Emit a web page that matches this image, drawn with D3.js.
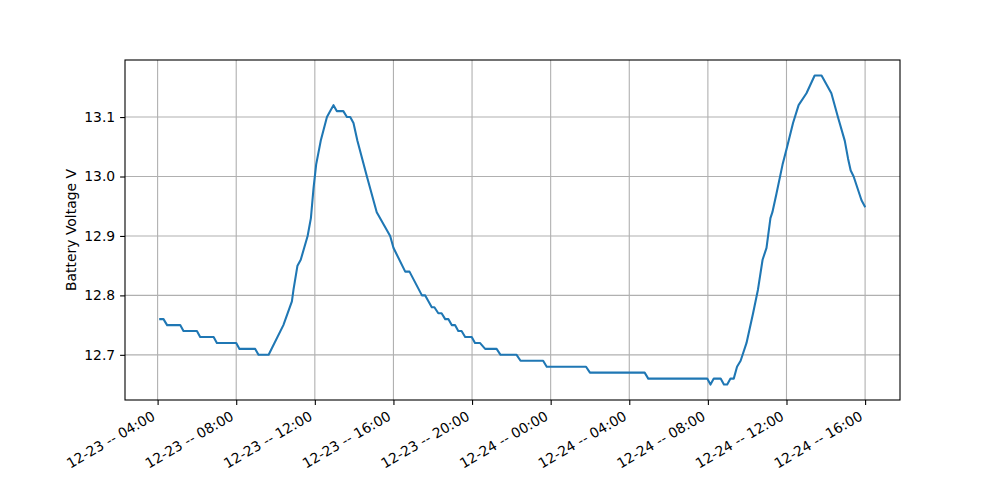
<!DOCTYPE html>
<html>
<head>
<meta charset="utf-8">
<script src="https://cdn.jsdelivr.net/npm/d3@7"></script>
<style>
  body { margin: 0; background: #fff; }
  .chart text { font-family: "DejaVu Sans", sans-serif; font-size: 13.9px; fill: #000; }
</style>
</head>
<body>
<div class="chart"></div>
<script>
// readings taken off the log (month-day hour:minute)
var times = [
  "12-23 04:08", "12-23 04:18", "12-23 04:29", "12-23 05:09", "12-23 05:19", "12-23 06:00",
  "12-23 06:10", "12-23 06:51", "12-23 07:01", "12-23 08:00", "12-23 08:10", "12-23 08:58",
  "12-23 09:08", "12-23 09:39", "12-23 10:24", "12-23 10:50", "12-23 10:55", "12-23 11:07",
  "12-23 11:17", "12-23 11:38", "12-23 11:48", "12-23 11:56", "12-23 12:04", "12-23 12:18",
  "12-23 12:37", "12-23 12:47", "12-23 12:57", "12-23 13:07", "12-23 13:27", "12-23 13:38",
  "12-23 13:48", "12-23 13:58", "12-23 14:10", "12-23 14:39", "12-23 15:09", "12-23 15:50",
  "12-23 16:00", "12-23 16:36", "12-23 16:49", "12-23 17:27", "12-23 17:37", "12-23 17:57",
  "12-23 18:05", "12-23 18:17", "12-23 18:27", "12-23 18:38", "12-23 18:48", "12-23 18:58",
  "12-23 19:08", "12-23 19:18", "12-23 19:28", "12-23 19:39", "12-23 19:59", "12-23 20:09",
  "12-23 20:24", "12-23 20:40", "12-23 21:15", "12-23 21:27", "12-23 22:16", "12-23 22:28",
  "12-23 23:37", "12-23 23:48", "12-24 01:48", "12-24 02:00", "12-24 04:47", "12-24 04:58",
  "12-24 07:58", "12-24 08:08", "12-24 08:18", "12-24 08:39", "12-24 08:49", "12-24 08:59",
  "12-24 09:09", "12-24 09:19", "12-24 09:29", "12-24 09:40", "12-24 09:58", "12-24 10:18",
  "12-24 10:33", "12-24 10:47", "12-24 10:59", "12-24 11:11", "12-24 11:17", "12-24 11:29",
  "12-24 11:48", "12-24 12:02", "12-24 12:20", "12-24 12:37", "12-24 13:01", "12-24 13:26",
  "12-24 13:47", "12-24 14:17", "12-24 14:37", "12-24 14:58", "12-24 15:08", "12-24 15:16",
  "12-24 15:25", "12-24 15:49", "12-24 15:59"
];
var volts = [
  12.76, 12.76, 12.75, 12.75, 12.74, 12.74,
  12.73, 12.73, 12.72, 12.72, 12.71, 12.71,
  12.70, 12.70, 12.75, 12.79, 12.81, 12.85,
  12.86, 12.90, 12.93, 12.98, 13.02, 13.06,
  13.10, 13.11, 13.12, 13.11, 13.11, 13.10,
  13.10, 13.09, 13.06, 13.00, 12.94, 12.90,
  12.88, 12.84, 12.84, 12.80, 12.80, 12.78,
  12.78, 12.77, 12.77, 12.76, 12.76, 12.75,
  12.75, 12.74, 12.74, 12.73, 12.73, 12.72,
  12.72, 12.71, 12.71, 12.70, 12.70, 12.69,
  12.69, 12.68, 12.68, 12.67, 12.67, 12.66,
  12.66, 12.65, 12.66, 12.66, 12.65, 12.65,
  12.66, 12.66, 12.68, 12.69, 12.72, 12.77,
  12.81, 12.86, 12.88, 12.93, 12.94, 12.97,
  13.02, 13.05, 13.09, 13.12, 13.14, 13.17,
  13.17, 13.14, 13.10, 13.06, 13.03, 13.01,
  13.00, 12.96, 12.95
];
var xTicks = [
  "12-23 04:00", "12-23 08:00", "12-23 12:00", "12-23 16:00", "12-23 20:00",
  "12-24 00:00", "12-24 04:00", "12-24 08:00", "12-24 12:00", "12-24 16:00"
];
var yTicks = [12.7, 12.8, 12.9, 13.0, 13.1];
var yLabel = "Battery Voltage V";

var svgWidth = 1000;
var svgHeight = 500;

var margin = {
  top: 60,
  right: 100,
  bottom: 100,
  left: 125
};

var width = svgWidth - margin.left - margin.right;
var height = svgHeight - margin.top - margin.bottom;

var parseTime = d3.timeParse("%m-%d %H:%M");
var formatTick = d3.timeFormat("%m-%d -- %H:%M");

var data = times.map((t, i) => ({ time: parseTime(t), volt: volts[i] }));

// matplotlib style 5% padding around the data
var tExt = d3.extent(data, d => +d.time);
var tPad = (tExt[1] - tExt[0]) * 0.05;
var vExt = d3.extent(data, d => d.volt);
var vPad = (vExt[1] - vExt[0]) * 0.05;

var xTimeScale = d3.scaleTime()
  .domain([new Date(tExt[0] - tPad), new Date(tExt[1] + tPad)])
  .range([0, width]);

var yLinearScale = d3.scaleLinear()
  .domain([vExt[0] - vPad, vExt[1] + vPad])
  .range([height, 0]);

var svg = d3.select(".chart")
  .append("svg")
  .attr("width", svgWidth)
  .attr("height", svgHeight);

var chartGroup = svg.append("g")
  .attr("transform", `translate(${margin.left}, ${margin.top})`);

var tickDates = xTicks.map(parseTime);

// grid
chartGroup.append("g")
  .selectAll("line.vgrid")
  .data(tickDates)
  .enter()
  .append("line")
  .attr("x1", d => xTimeScale(d))
  .attr("x2", d => xTimeScale(d))
  .attr("y1", 0)
  .attr("y2", height)
  .attr("stroke", "#b0b0b0")
  .attr("stroke-width", 1.1);

chartGroup.append("g")
  .selectAll("line.hgrid")
  .data(yTicks)
  .enter()
  .append("line")
  .attr("x1", 0)
  .attr("x2", width)
  .attr("y1", d => yLinearScale(d))
  .attr("y2", d => yLinearScale(d))
  .attr("stroke", "#b0b0b0")
  .attr("stroke-width", 1.1);

// the line
var line = d3.line()
  .x(d => xTimeScale(d.time))
  .y(d => yLinearScale(d.volt));

chartGroup.append("path")
  .datum(data)
  .attr("d", line)
  .attr("fill", "none")
  .attr("stroke", "#1f77b4")
  .attr("stroke-width", 2.08)
  .attr("stroke-linejoin", "round")
  .attr("stroke-linecap", "square");

// axes
var bottomAxis = d3.axisBottom(xTimeScale)
  .tickValues(tickDates)
  .tickSize(4.9)
  .tickPadding(4.9)
  .tickFormat(formatTick);

var leftAxis = d3.axisLeft(yLinearScale)
  .tickValues(yTicks)
  .tickSize(4.9)
  .tickPadding(4.9)
  .tickFormat(d3.format(".1f"));

var xAxis = chartGroup.append("g")
  .attr("transform", `translate(0, ${height})`)
  .call(bottomAxis);

xAxis.selectAll("text")
  .attr("text-anchor", "end")
  .attr("dy", null)
  .attr("y", null)
  .attr("transform", "translate(-2, 19) rotate(-30)");

var yAxis = chartGroup.append("g")
  .call(leftAxis);

[xAxis, yAxis].forEach(a => {
  a.select(".domain").remove();
  a.selectAll("line").attr("stroke", "#000").attr("stroke-width", 1.1);
  a.selectAll("text").style("font-family", "DejaVu Sans").style("font-size", "13.9px");
});

// frame
chartGroup.append("rect")
  .attr("x", 0)
  .attr("y", 0)
  .attr("width", width)
  .attr("height", height)
  .attr("fill", "none")
  .attr("stroke", "#000")
  .attr("stroke-width", 1.1);

chartGroup.append("text")
  .attr("transform", `translate(${76 - margin.left}, ${height / 2}) rotate(-90)`)
  .attr("text-anchor", "middle")
  .text(yLabel);
</script>
</body>
</html>
